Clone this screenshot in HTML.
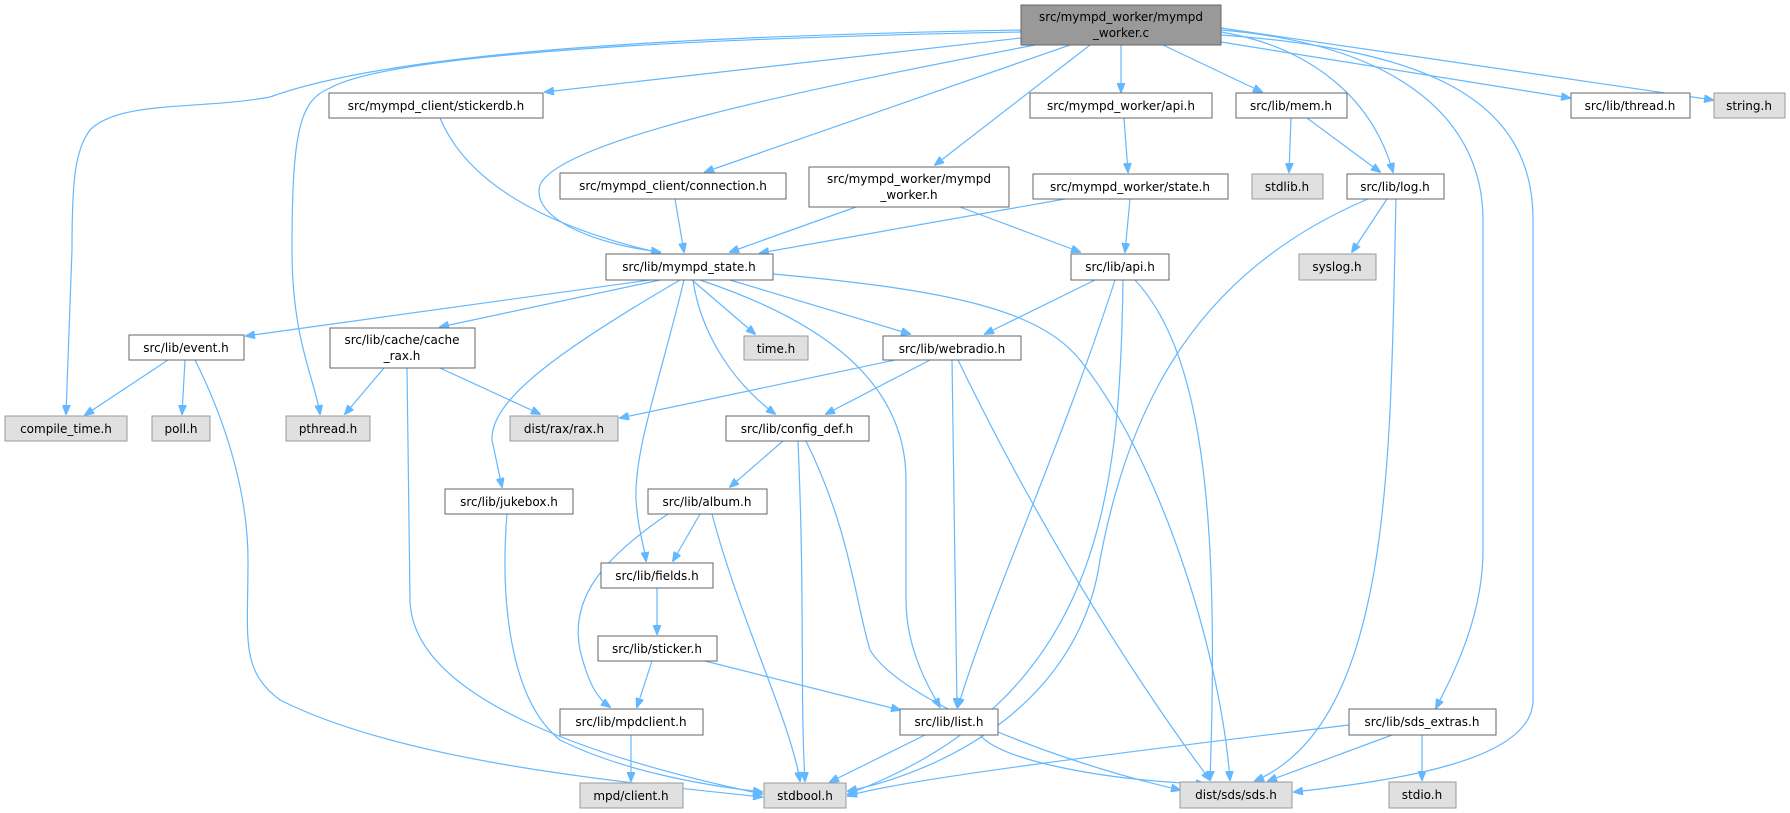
<!DOCTYPE html>
<html><head><meta charset="utf-8"><style>
html,body{margin:0;padding:0;background:#fff;}
svg{display:block;}
text{font-family:"DejaVu Sans","Liberation Sans",sans-serif;font-size:12px;fill:#000;}
.n{fill:#fff;stroke:#666;stroke-width:1;}
.g{fill:#e0e0e0;stroke:#999;stroke-width:1;}
.r{fill:#999;stroke:#666;stroke-width:1;}
.e{fill:none;stroke:#63b8ff;stroke-width:1.2;marker-end:url(#a);}
</style></head><body>
<svg width="1790" height="813" viewBox="0 0 1790 813">
<defs><marker id="a" markerWidth="10" markerHeight="8" refX="9" refY="4" orient="auto" markerUnits="userSpaceOnUse"><path d="M0,0 L10,4 L0,8 z" fill="#63b8ff" stroke="#63b8ff"/></marker></defs>
<g>
<path class="e" d="M1021,30 C700,36 400,50 270,97 C200,110 120,100 90,130 C75,150 72,180 72,250 L66,414"/>
<path class="e" d="M1021,32 C600,40 380,60 330,88 C300,100 292,130 292,250 C292,340 315,380 320,414"/>
<path class="e" d="M1021,38 L545,92"/>
<path class="e" d="M1035,45 C800,90 560,140 540,185 C530,220 600,245 660,252"/>
<path class="e" d="M1070,45 L705,172"/>
<path class="e" d="M1090,45 L935,165"/>
<path class="e" d="M1121,45 L1121,92"/>
<path class="e" d="M1163,45 L1262,92"/>
<path class="e" d="M1221,32 C1300,45 1370,90 1393,172"/>
<path class="e" d="M1221,42 L1570,98"/>
<path class="e" d="M1221,28 L1713,100"/>
<path class="e" d="M1221,30 C1400,45 1483,120 1483,220 L1483,550 C1483,620 1450,680 1436,708"/>
<path class="e" d="M1221,35 C1430,50 1533,100 1533,220 L1533,700 C1533,760 1400,780 1294,792"/>
<path class="e" d="M440,118 C470,190 560,230 660,253"/>
<path class="e" d="M675,199 L684,252"/>
<path class="e" d="M856,207 L730,252"/>
<path class="e" d="M960,207 L1080,252"/>
<path class="e" d="M1124,118 L1128,172"/>
<path class="e" d="M1065,199 L760,253"/>
<path class="e" d="M1130,199 L1125,252"/>
<path class="e" d="M1291,118 L1289,172"/>
<path class="e" d="M1307,118 L1380,172"/>
<path class="e" d="M1387,199 L1352,252"/>
<path class="e" d="M1368,199 C1200,270 1130,400 1100,560 C1080,700 950,770 848,791"/>
<path class="e" d="M1396,199 C1390,450 1395,720 1255,781"/>
<path class="e" d="M650,280 L246,336"/>
<path class="e" d="M660,280 L440,327"/>
<path class="e" d="M680,280 C560,350 490,400 492,440 L502,487"/>
<path class="e" d="M692,280 L755,334"/>
<path class="e" d="M693,280 C700,330 730,380 775,414"/>
<path class="e" d="M684,280 C660,380 634,450 636,500 C638,530 644,545 646,561"/>
<path class="e" d="M700,280 C820,320 906,380 906,480 L906,600 C906,650 930,690 940,707"/>
<path class="e" d="M730,280 L910,334"/>
<path class="e" d="M773,274 C950,290 1040,310 1080,360 C1160,460 1220,650 1230,780"/>
<path class="e" d="M1095,280 L985,334"/>
<path class="e" d="M1115,280 C1060,450 990,600 958,707"/>
<path class="e" d="M1123,280 C1120,500 1100,700 848,794"/>
<path class="e" d="M1135,280 C1200,350 1220,500 1210,780"/>
<path class="e" d="M168,360 L85,415"/>
<path class="e" d="M185,360 L182,414"/>
<path class="e" d="M195,360 C230,430 248,500 248,560 C248,640 240,670 280,700 C400,760 600,780 762,797"/>
<path class="e" d="M384,368 L345,414"/>
<path class="e" d="M440,368 L540,414"/>
<path class="e" d="M407,368 L410,600 C412,700 600,760 762,794"/>
<path class="e" d="M507,514 C500,600 510,700 560,740 C620,770 700,785 762,792"/>
<path class="e" d="M895,360 L620,418"/>
<path class="e" d="M930,360 L826,414"/>
<path class="e" d="M952,360 L957,707"/>
<path class="e" d="M958,360 C1050,550 1150,700 1210,780"/>
<path class="e" d="M783,441 L730,487"/>
<path class="e" d="M798,441 C805,600 800,700 805,781"/>
<path class="e" d="M806,441 C850,530 855,600 870,650 C900,700 1050,760 1180,790"/>
<path class="e" d="M700,514 L673,561"/>
<path class="e" d="M668,514 C600,560 570,600 580,650 C590,690 600,700 610,707"/>
<path class="e" d="M712,514 C740,620 790,720 800,781"/>
<path class="e" d="M657,588 L657,634"/>
<path class="e" d="M652,661 L637,707"/>
<path class="e" d="M705,661 L900,710"/>
<path class="e" d="M631,735 L631,781"/>
<path class="e" d="M925,735 L830,782"/>
<path class="e" d="M980,735 C1000,760 1100,780 1205,784"/>
<path class="e" d="M1349,725 C1100,755 900,780 848,796"/>
<path class="e" d="M1392,735 L1268,781"/>
<path class="e" d="M1422,735 L1422,780"/>
</g>
<g>
<rect class="r" x="1021" y="5" width="200" height="40"/>
<text x="1121" y="21" text-anchor="middle">src/mympd_worker/mympd</text>
<text x="1121" y="37" text-anchor="middle">_worker.c</text>

<rect class="n" x="329" y="93" width="214" height="25"/><text x="436" y="110" text-anchor="middle">src/mympd_client/stickerdb.h</text>
<rect class="n" x="1030" y="93" width="182" height="25"/><text x="1121" y="110" text-anchor="middle">src/mympd_worker/api.h</text>
<rect class="n" x="1236" y="93" width="111" height="25"/><text x="1291" y="110" text-anchor="middle">src/lib/mem.h</text>
<rect class="n" x="1571" y="93" width="119" height="25"/><text x="1630" y="110" text-anchor="middle">src/lib/thread.h</text>
<rect class="g" x="1714" y="93" width="71" height="25"/><text x="1749" y="110" text-anchor="middle">string.h</text>

<rect class="n" x="560" y="173" width="226" height="26"/><text x="673" y="190" text-anchor="middle">src/mympd_client/connection.h</text>
<rect class="n" x="809" y="167" width="200" height="40"/><text x="909" y="183" text-anchor="middle">src/mympd_worker/mympd</text><text x="909" y="199" text-anchor="middle">_worker.h</text>
<rect class="n" x="1033" y="174" width="195" height="25"/><text x="1130" y="191" text-anchor="middle">src/mympd_worker/state.h</text>
<rect class="g" x="1252" y="174" width="71" height="25"/><text x="1287" y="191" text-anchor="middle">stdlib.h</text>
<rect class="n" x="1347" y="174" width="97" height="25"/><text x="1395" y="191" text-anchor="middle">src/lib/log.h</text>

<rect class="n" x="606" y="254" width="167" height="26"/><text x="689" y="271" text-anchor="middle">src/lib/mympd_state.h</text>
<rect class="n" x="1071" y="254" width="98" height="26"/><text x="1120" y="271" text-anchor="middle">src/lib/api.h</text>
<rect class="g" x="1299" y="254" width="77" height="26"/><text x="1337" y="271" text-anchor="middle">syslog.h</text>

<rect class="n" x="129" y="335" width="115" height="25"/><text x="186" y="352" text-anchor="middle">src/lib/event.h</text>
<rect class="n" x="330" y="328" width="145" height="40"/><text x="402" y="344" text-anchor="middle">src/lib/cache/cache</text><text x="402" y="360" text-anchor="middle">_rax.h</text>
<rect class="g" x="744" y="336" width="64" height="24"/><text x="776" y="353" text-anchor="middle">time.h</text>
<rect class="n" x="883" y="336" width="138" height="24"/><text x="952" y="353" text-anchor="middle">src/lib/webradio.h</text>

<rect class="g" x="5" y="416" width="122" height="25"/><text x="66" y="433" text-anchor="middle">compile_time.h</text>
<rect class="g" x="152" y="416" width="58" height="25"/><text x="181" y="433" text-anchor="middle">poll.h</text>
<rect class="g" x="286" y="416" width="84" height="25"/><text x="328" y="433" text-anchor="middle">pthread.h</text>
<rect class="g" x="510" y="416" width="108" height="25"/><text x="564" y="433" text-anchor="middle">dist/rax/rax.h</text>
<rect class="n" x="726" y="416" width="143" height="25"/><text x="797" y="433" text-anchor="middle">src/lib/config_def.h</text>

<rect class="n" x="445" y="489" width="128" height="25"/><text x="509" y="506" text-anchor="middle">src/lib/jukebox.h</text>
<rect class="n" x="648" y="489" width="119" height="25"/><text x="707" y="506" text-anchor="middle">src/lib/album.h</text>

<rect class="n" x="601" y="563" width="112" height="25"/><text x="657" y="580" text-anchor="middle">src/lib/fields.h</text>
<rect class="n" x="598" y="636" width="119" height="25"/><text x="657" y="653" text-anchor="middle">src/lib/sticker.h</text>

<rect class="n" x="560" y="709" width="143" height="26"/><text x="631" y="726" text-anchor="middle">src/lib/mpdclient.h</text>
<rect class="n" x="900" y="709" width="98" height="26"/><text x="949" y="726" text-anchor="middle">src/lib/list.h</text>
<rect class="n" x="1349" y="709" width="147" height="26"/><text x="1422" y="726" text-anchor="middle">src/lib/sds_extras.h</text>

<rect class="g" x="580" y="783" width="103" height="25"/><text x="631" y="800" text-anchor="middle">mpd/client.h</text>
<rect class="g" x="764" y="783" width="82" height="25"/><text x="805" y="800" text-anchor="middle">stdbool.h</text>
<rect class="g" x="1180" y="782" width="112" height="26"/><text x="1236" y="799" text-anchor="middle">dist/sds/sds.h</text>
<rect class="g" x="1389" y="782" width="67" height="26"/><text x="1422" y="799" text-anchor="middle">stdio.h</text>
</g>
</svg>
</body></html>
